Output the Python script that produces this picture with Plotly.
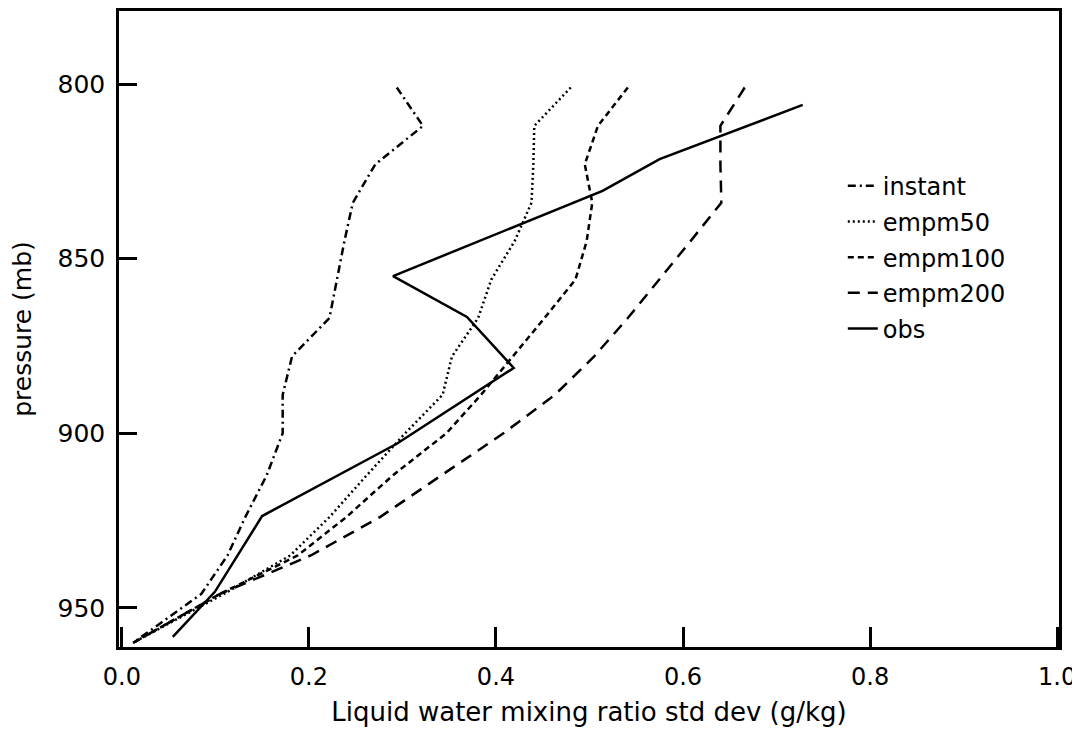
import plotly.graph_objects as go

# model pressure levels (mb)
p_model = [801, 812, 823, 834, 845, 856, 867, 878, 889, 900, 912, 924, 935, 946, 960]

instant = [0.294, 0.322, 0.271, 0.247, 0.238, 0.230, 0.222, 0.182, 0.172, 0.172, 0.155, 0.132, 0.113, 0.085, 0.012]
empm50 = [0.480, 0.441, 0.440, 0.438, 0.420, 0.395, 0.381, 0.353, 0.343, 0.303, 0.262, 0.222, 0.180, 0.109, 0.012]
empm100 = [0.541, 0.509, 0.495, 0.503, 0.497, 0.485, 0.452, 0.418, 0.384, 0.347, 0.290, 0.240, 0.188, 0.105, 0.012]
empm200 = [0.666, 0.640, 0.640, 0.641, 0.608, 0.575, 0.541, 0.505, 0.463, 0.408, 0.342, 0.276, 0.202, 0.105, 0.012]

# observations
p_obs = [806, 821.5, 830.6, 855, 866.7, 881.3, 903, 923.7, 945.4, 958.3]
obs = [0.728, 0.575, 0.514, 0.290, 0.369, 0.419, 0.294, 0.150, 0.0995, 0.0545]

series = [
    ("instant", instant, p_model, "8px,4px,2px,4px"),
    ("empm50", empm50, p_model, "2px,3px"),
    ("empm100", empm100, p_model, "6px,4px"),
    ("empm200", empm200, p_model, "12px,8px"),
    ("obs", obs, p_obs, "solid"),
]

FONT = "DejaVu Sans, Verdana, sans-serif"
FS = 24

fig = go.Figure()
for name, xs, ps, dash in series:
    fig.add_trace(go.Scatter(
        x=xs, y=ps, mode="lines", name=name, legendgroup=name,
        line=dict(color="black", width=2.5, dash=dash),
    ))

# page body has an 8px margin; figure offset by it and sized to reach the window edges
fig.update_layout(
    width=1072, height=726,
    margin=dict(l=111, r=21, t=3, b=87),
    paper_bgcolor="white", plot_bgcolor="white",
    font=dict(family=FONT, size=FS, color="black"),
    showlegend=True,
    legend=dict(
        x=0.77, y=0.760, xanchor="left", yanchor="top",
        bgcolor="rgba(0,0,0,0)", borderwidth=0,
        font=dict(family=FONT, size=FS, color="black"),
        tracegroupgap=1.5, itemwidth=30,
    ),
)

fig.update_xaxes(
    range=[-0.003, 1.002], tickvals=[0.0, 0.2, 0.4, 0.6, 0.8, 1.0], tickformat=".1f",
    ticks="inside", ticklen=20, tickwidth=2.5, tickcolor="black",
    showline=True, linewidth=2.5, linecolor="black", mirror=True,
    showgrid=False, zeroline=False, ticklabelstandoff=6,
    ticklabeloverflow="allow", automargin=False,
    title=dict(text="Liquid water mixing ratio std dev (g/kg)", standoff=14,
               font=dict(family=FONT, size=26)),
    tickfont=dict(family=FONT, size=24),
)
fig.update_yaxes(
    range=[961.2, 779.1], tickvals=[800, 850, 900, 950],
    ticks="inside", ticklen=18, tickwidth=2.5, tickcolor="black",
    showline=True, linewidth=2.5, linecolor="black", mirror=True,
    showgrid=False, zeroline=False, ticklabelstandoff=6, automargin=False,
    title=dict(text="pressure (mb)", standoff=24, font=dict(family=FONT, size=25)),
    tickfont=dict(family=FONT, size=25),
)

fig.write_html("out.html")
